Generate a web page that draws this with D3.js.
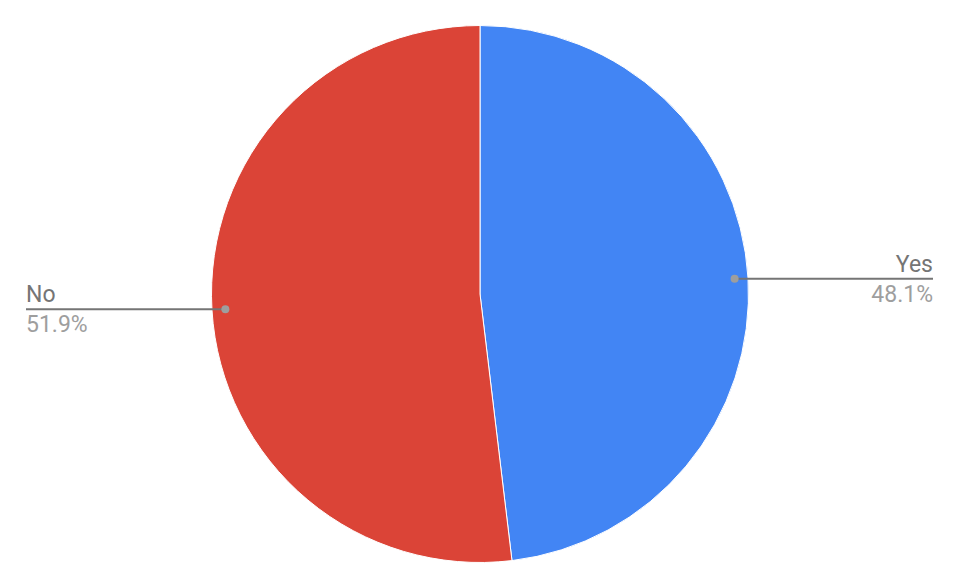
<!DOCTYPE html>
<html><head><meta charset="utf-8">
<script src="https://cdn.jsdelivr.net/npm/d3@7"></script>
<style>html,body{margin:0;padding:0;background:#fff;}svg{display:block;font-family:Roboto,"Noto Sans",sans-serif;}</style>
</head><body>
<svg id="c" width="958" height="588"></svg>
<script>
const categories = ["Yes", "No"];
const values = [48.1, 51.9];
const colors = ["#4285F4", "#DB4437"];

const W = 958, H = 588;
const cx = 480, cy = 294, R = 268.5;
const svg = d3.select("#c");
const g = svg.append("g").attr("transform", `translate(${cx},${cy})`);
const data = categories.map((c, i) => ({cat: c, value: values[i], color: colors[i]}));
const pie = d3.pie().sort(null).value(d => d.value);
const arcs = pie(data);
const arc = d3.arc().innerRadius(0).outerRadius(R);
g.selectAll("path").data(arcs).enter().append("path")
  .attr("d", arc).attr("fill", d => d.data.color)
  .attr("stroke", "#fff").attr("stroke-width", 1);

const total = d3.sum(values);
const labelArc = d3.arc().innerRadius(R * 0.95).outerRadius(R * 0.95);
arcs.forEach(a => {
  const [px, py] = labelArc.centroid(a);
  const right = px > 0;
  const lx = right ? 933 - cx : 26 - cx;
  g.append("line").attr("x1", px).attr("y1", py).attr("x2", lx).attr("y2", py)
    .attr("stroke", "#757575").attr("stroke-width", 2);
  g.append("circle").attr("cx", px).attr("cy", py).attr("r", 4).attr("fill", "#9E9E9E");
  const anchor = right ? "end" : "start";
  g.append("text").attr("x", lx).attr("y", py - 7).attr("text-anchor", anchor)
    .attr("font-size", 23).attr("fill", "#757575").text(a.data.cat);
  g.append("text").attr("x", lx).attr("y", py + 23).attr("text-anchor", anchor)
    .attr("font-size", 23).attr("fill", "#9E9E9E")
    .text((a.data.value / total * 100).toFixed(1) + "%");
});
</script>
</body></html>
